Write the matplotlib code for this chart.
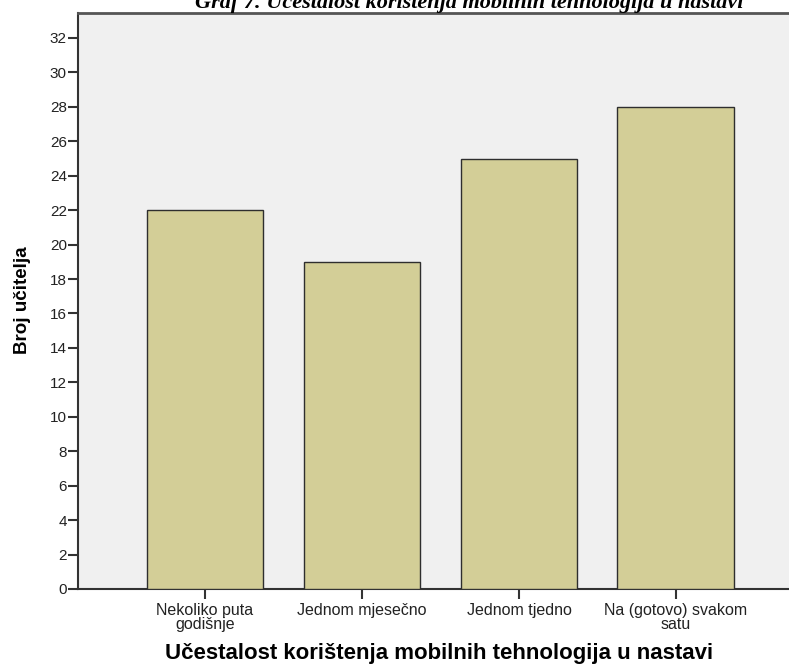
import matplotlib
matplotlib.use("Agg")
import matplotlib.pyplot as plt

categories = ["Nekoliko puta\ngodišnje", "Jednom mjesečno", "Jednom tjedno", "Na (gotovo) svakom\nsatu"]
values = [22, 19, 25, 28]
yticks = list(range(0, 33, 2))

plt.rcParams['font.family'] = ['Liberation Sans', 'DejaVu Sans']

fig = plt.figure(figsize=(7.89, 6.64), dpi=100)
ax = fig.add_axes([78/789, 1 - 589/664, 1 - 78/789, (589 - 13)/664])
ax.set_facecolor('#F0F0F0')

x = list(range(len(categories)))
ax.bar(x, values, width=0.745, color='#D3CE97', edgecolor='#2E2E2E', linewidth=1.0, zorder=3)

ax.set_xlim(-0.809, 3.72)
ax.set_ylim(0, 33.45)
ax.set_yticks(yticks)
ax.set_yticklabels([str(v) for v in yticks], fontsize=11, color='#222222')
ax.set_xticks(x)
ax.set_xticklabels(categories, fontsize=11.5, color='#222222', linespacing=0.92)
ax.tick_params(axis='both', direction='out', length=7, width=1.5, color='#333333')
ax.tick_params(axis='y', pad=1)
ax.tick_params(axis='x', pad=3)

for s in ['left', 'bottom']:
    ax.spines[s].set_color('#333333')
    ax.spines[s].set_linewidth(1.5)
ax.spines['top'].set_color('#555555')
ax.spines['top'].set_linewidth(2)
ax.spines['right'].set_visible(False)

fig.text(23/789, 1 - 300/664, "Broj učitelja", fontsize=13.5, fontweight='bold',
         rotation=90, ha='center', va='center')
fig.text(439/789, 1 - 653/664, "Učestalost korištenja mobilnih tehnologija u nastavi",
         fontsize=16, fontweight='bold', ha='center', va='center')

fig.text(469/789, 1 - 8/664, "Graf 7. Učestalost korištenja mobilnih tehnologija u nastavi",
         fontsize=16, fontweight='bold', fontstyle='italic', ha='center', va='baseline',
         family=['Liberation Serif', 'DejaVu Serif'])

fig.savefig("out.png", dpi=100)
